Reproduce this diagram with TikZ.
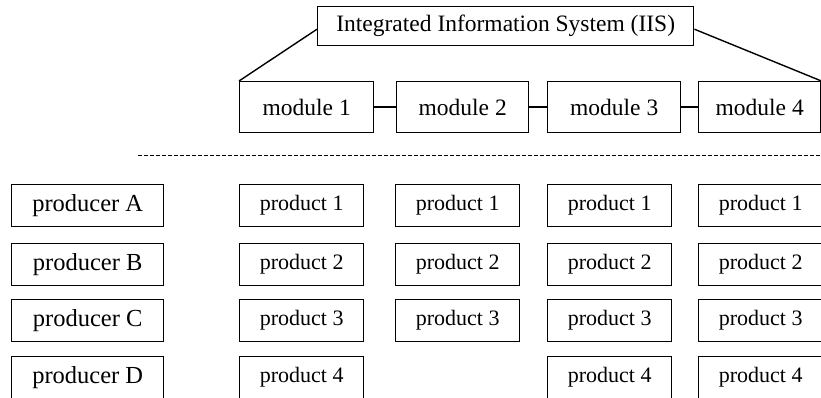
\documentclass[tikz,border=0pt]{standalone}
\usepackage{fontspec}
\setmainfont{Liberation Serif}
\begin{document}
\begin{tikzpicture}[x=1pt,y=-1pt,
  box/.style={draw,line width=1.4pt,inner sep=0pt,anchor=north west},
  modbox/.style={box,font=\fontsize{23.5}{25}\selectfont,minimum height=51pt},
  prodbox/.style={box,font=\fontsize{22}{24}\selectfont,minimum height=42pt,minimum width=124pt},
  prodcbox/.style={box,font=\fontsize{24.5}{26}\selectfont,minimum height=42pt,minimum width=152pt},
  link/.style={line width=1.4pt}]
\useasboundingbox (0,0) rectangle (821,398);
\node[box,font=\fontsize{23.5}{25}\selectfont,minimum width=376pt,minimum height=39pt] (iis) at (317,6) {Integrated Information System (IIS)};
\node[modbox,minimum width=134pt] (m1) at (239,81) {module 1};
\node[modbox,minimum width=132pt] (m2) at (396,81) {module 2};
\node[modbox,minimum width=133pt] (m3) at (547,81) {module 3};
\node[modbox,minimum width=122pt] (m4) at (698,81) {module 4};
\draw[link] (iis.west) ++(0,3) -- (m1.north west);
\draw[link] (iis.east) ++(0,3) -- (m4.north east);
\draw[link] (m1) -- (m2);
\draw[link] (m2) -- (m3);
\draw[link] (m3) -- (m4);
\coordinate (dl) at (138,155);
\coordinate (dr) at (821,155);
\draw[line width=0.9pt,dash pattern=on 4pt off 2pt] (dl) -- (dr);
\node[prodcbox] (pa) at (11,184) {producer A};
\node[prodcbox] (pb) at (11,243) {producer B};
\node[prodcbox] (pc) at (11,299) {producer C};
\node[prodcbox] (pd) at (11,356) {producer D};
\node[prodbox] (a1) at (239,184) {product 1};
\node[prodbox] (a2) at (239,243) {product 2};
\node[prodbox] (a3) at (239,299) {product 3};
\node[prodbox] (a4) at (239,356) {product 4};
\node[prodbox] (b1) at (395,184) {product 1};
\node[prodbox] (b2) at (395,243) {product 2};
\node[prodbox] (b3) at (395,299) {product 3};
\node[prodbox] (c1) at (547,184) {product 1};
\node[prodbox] (c2) at (547,243) {product 2};
\node[prodbox] (c3) at (547,299) {product 3};
\node[prodbox] (c4) at (547,356) {product 4};
\node[prodbox] (d1) at (698,184) {product 1};
\node[prodbox] (d2) at (698,243) {product 2};
\node[prodbox] (d3) at (698,299) {product 3};
\node[prodbox] (d4) at (698,356) {product 4};
\end{tikzpicture}
\end{document}
